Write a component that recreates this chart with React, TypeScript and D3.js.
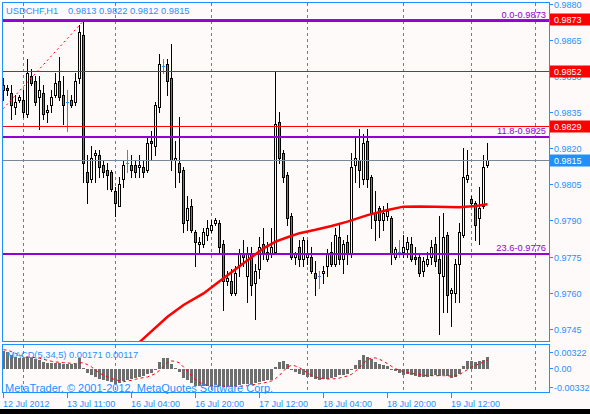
import React from 'react'
import * as d3 from 'd3'

// USDCHF H1, 12 Jul 2012 19:00 .. 19 Jul 2012 21:00 (122 bars)
const symbol = 'USDCHF,H1'

const opens = [
  0.9846, 0.9845, 0.9843, 0.9837, 0.9840, 0.9840, 0.9834, 0.9850, 0.9848, 0.9841,
  0.9843, 0.9835, 0.9838, 0.9842, 0.9848, 0.9842, 0.9839, 0.9840, 0.9839, 0.9849,
  0.9867, 0.9810, 0.9807, 0.9817, 0.9817, 0.9813, 0.9811, 0.9810, 0.9802, 0.9796,
  0.9807, 0.9814, 0.9813, 0.9813, 0.9812, 0.9812, 0.9811, 0.9823, 0.9821, 0.9837,
  0.9854, 0.9855, 0.9849, 0.9815, 0.9814, 0.9811, 0.9790, 0.9796, 0.9785, 0.9780,
  0.9780, 0.9784, 0.9786, 0.9789, 0.9789, 0.9780, 0.9765, 0.9765, 0.9760, 0.9771,
  0.9776, 0.9767, 0.9776, 0.9764, 0.9770, 0.9780, 0.9774, 0.9776, 0.9777, 0.9831,
  0.9818, 0.9809, 0.9792, 0.9775, 0.9779, 0.9774, 0.9775, 0.9775, 0.9768, 0.9767,
  0.9768, 0.9771, 0.9777, 0.9772, 0.9783, 0.9774, 0.9781, 0.9776, 0.9813, 0.9815,
  0.9807, 0.9823, 0.9808, 0.9793, 0.9795, 0.9790, 0.9792, 0.9791, 0.9775, 0.9777,
  0.9777, 0.9778, 0.9780, 0.9775, 0.9775, 0.9769, 0.9772, 0.9775, 0.9780, 0.9774,
  0.9767, 0.9784, 0.9760, 0.9760, 0.9772, 0.9784, 0.9807, 0.9799, 0.9797, 0.9791,
  0.9796, 0.9813,
]
const highs = [
  0.9849, 0.9846, 0.9846, 0.9842, 0.9842, 0.9844, 0.9857, 0.9853, 0.9850, 0.9850,
  0.9846, 0.9838, 0.9844, 0.9851, 0.9858, 0.9850, 0.9844, 0.9842, 0.9851, 0.9871,
  0.9873, 0.9817, 0.9821, 0.9819, 0.9819, 0.9815, 0.9814, 0.9811, 0.9804, 0.9808,
  0.9815, 0.9819, 0.9817, 0.9815, 0.9817, 0.9815, 0.9825, 0.9827, 0.9839, 0.9859,
  0.9857, 0.9857, 0.9863, 0.9823, 0.9833, 0.9812, 0.9800, 0.9799, 0.9786, 0.9783,
  0.9787, 0.9790, 0.9790, 0.9791, 0.9790, 0.9782, 0.9769, 0.9770, 0.9771, 0.9778,
  0.9782, 0.9779, 0.9779, 0.9772, 0.9783, 0.9787, 0.9781, 0.9787, 0.9852, 0.9835,
  0.9819, 0.9810, 0.9793, 0.9777, 0.9782, 0.9783, 0.9782, 0.9779, 0.9773, 0.9769,
  0.9771, 0.9778, 0.9781, 0.9787, 0.9788, 0.9782, 0.9784, 0.9818, 0.9825, 0.9828,
  0.9826, 0.9828, 0.9809, 0.9802, 0.9796, 0.9796, 0.9797, 0.9792, 0.9779, 0.9782,
  0.9784, 0.9783, 0.9783, 0.9779, 0.9776, 0.9775, 0.9777, 0.9782, 0.9783, 0.9792,
  0.9793, 0.9785, 0.9762, 0.9774, 0.9789, 0.9820, 0.9819, 0.9800, 0.9798, 0.9804,
  0.9817, 0.9822,
]
const lows = [
  0.9840, 0.9842, 0.9832, 0.9834, 0.9839, 0.9833, 0.9833, 0.9846, 0.9838, 0.9828,
  0.9832, 0.9831, 0.9835, 0.9841, 0.9840, 0.9830, 0.9827, 0.9837, 0.9838, 0.9847,
  0.9806, 0.9797, 0.9806, 0.9806, 0.9808, 0.9808, 0.9803, 0.9802, 0.9792, 0.9796,
  0.9804, 0.9810, 0.9808, 0.9808, 0.9808, 0.9808, 0.9810, 0.9815, 0.9817, 0.9835,
  0.9851, 0.9842, 0.9811, 0.9804, 0.9806, 0.9785, 0.9786, 0.9785, 0.9771, 0.9777,
  0.9779, 0.9782, 0.9785, 0.9788, 0.9777, 0.9753, 0.9763, 0.9759, 0.9759, 0.9767,
  0.9771, 0.9756, 0.9759, 0.9749, 0.9766, 0.9774, 0.9773, 0.9775, 0.9776, 0.9814,
  0.9806, 0.9788, 0.9774, 0.9772, 0.9771, 0.9771, 0.9772, 0.9768, 0.9759, 0.9762,
  0.9764, 0.9767, 0.9771, 0.9771, 0.9772, 0.9768, 0.9772, 0.9775, 0.9806, 0.9804,
  0.9805, 0.9804, 0.9787, 0.9782, 0.9783, 0.9786, 0.9790, 0.9772, 0.9774, 0.9775,
  0.9775, 0.9775, 0.9773, 0.9772, 0.9767, 0.9767, 0.9771, 0.9772, 0.9771, 0.9743,
  0.9752, 0.9752, 0.9746, 0.9756, 0.9756, 0.9783, 0.9806, 0.9796, 0.9782, 0.9780,
  0.9795, 0.9812,
]
const closes = [
  0.9844, 0.9844, 0.9838, 0.9839, 0.9841, 0.9835, 0.9851, 0.9847, 0.9839, 0.9844,
  0.9834, 0.9836, 0.9841, 0.9847, 0.9841, 0.9838, 0.9839, 0.9838, 0.9848, 0.9868,
  0.9814, 0.9806, 0.9816, 0.9818, 0.9812, 0.9810, 0.9809, 0.9803, 0.9797, 0.9805,
  0.9813, 0.9814, 0.9811, 0.9810, 0.9813, 0.9810, 0.9822, 0.9822, 0.9838, 0.9855,
  0.9854, 0.9848, 0.9815, 0.9816, 0.9810, 0.9789, 0.9795, 0.9786, 0.9781, 0.9781,
  0.9785, 0.9787, 0.9788, 0.9790, 0.9779, 0.9765, 0.9766, 0.9760, 0.9768, 0.9776,
  0.9775, 0.9776, 0.9763, 0.9769, 0.9779, 0.9776, 0.9777, 0.9779, 0.9830, 0.9816,
  0.9808, 0.9791, 0.9775, 0.9776, 0.9774, 0.9782, 0.9776, 0.9769, 0.9766, 0.9767,
  0.9769, 0.9776, 0.9772, 0.9784, 0.9774, 0.9780, 0.9776, 0.9812, 0.9816, 0.9811,
  0.9822, 0.9807, 0.9793, 0.9790, 0.9790, 0.9793, 0.9794, 0.9776, 0.9778, 0.9777,
  0.9779, 0.9781, 0.9774, 0.9774, 0.9768, 0.9773, 0.9774, 0.9779, 0.9773, 0.9768,
  0.9783, 0.9759, 0.9761, 0.9772, 0.9785, 0.9808, 0.9809, 0.9797, 0.9788, 0.9795,
  0.9812, 0.9815,
]

// moving average
const maBars = [34, 41, 45, 50, 55, 60, 65, 68, 71, 74, 78, 82, 86, 91, 96, 100, 104, 108, 114, 118, 121]
const maValues = [
  0.97397, 0.97502, 0.97551, 0.97599, 0.97662, 0.97724, 0.97786, 0.97814, 0.97832, 0.97849,
  0.97863, 0.97879, 0.97897, 0.97924, 0.97945, 0.97959, 0.9796, 0.97959, 0.97957, 0.97962,
  0.97969,
]

// MACD(5,34,5), in 1e-5 units
const macdHist = [
  251, 237, 199, 166, 156, 156, 166, 152, 133, 119,
  95, 81, 81, 85, 81, 71, 62, 62, 71, 152,
  14, -62, -95, -119, -142, -156, -175, -194, -213, -204,
  -175, -156, -142, -128, -119, -109, -81, -62, -5, 95,
  156, 156, 71, 14, -47, -128, -166, -204, -242, -251,
  -251, -246, -242, -237, -242, -261, -261, -261, -251, -228,
  -223, -223, -213, -204, -190, -175, -166, -156, 24, 95,
  104, 62, -5, -47, -71, -95, -119, -119, -152, -156,
  -152, -142, -128, -119, -95, -85, -71, -14, 47, 119,
  190, 166, 137, 95, 62, 47, 33, -14, -38, -62,
  -95, -81, -95, -104, -119, -119, -119, -109, -95, -104,
  -95, -104, -128, -119, -71, 33, 109, 109, 95, 109,
  128, 171,
].map(v => v / 100000)
const macdSignal = [
  270, 261, 242, 218, 194, 175, 166, 161, 156, 147,
  133, 119, 104, 95, 90, 85, 81, 76, 71, 85,
  81, 57, 24, -24, -62, -95, -118, -142, -156, -175,
  -185, -175, -166, -152, -137, -128, -118, -95, -71, -24,
  33, 90, 109, 104, 81, 24, -38, -95, -156, -194,
  -223, -242, -246, -251, -251, -251, -251, -251, -251, -251,
  -246, -242, -232, -223, -213, -204, -190, -175, -142, -95,
  -33, 24, 47, 38, 14, -24, -62, -95, -118, -133,
  -142, -147, -147, -142, -133, -118, -104, -81, -38, 24,
  81, 128, 152, 152, 133, 104, 71, 33, 0, -24,
  -43, -57, -66, -76, -85, -95, -95, -100, -100, -100,
  -100, -104, -104, -104, -85, -47, -14, 24, 47, 71,
  95, 117,
].map(v => v / 100000)

const timeTickBars = [0, 16, 32, 48, 64, 80, 96, 112]
const timeTickLabels = ['12 Jul 2012', '13 Jul 11:00', '16 Jul 04:00', '16 Jul 20:00', '17 Jul 12:00', '18 Jul 04:00', '18 Jul 20:00', '19 Jul 12:00']
const gridBars = [5, 28, 52, 76, 100, 117, 133]
const priceTicks = [0.988, 0.9865, 0.985, 0.9835, 0.982, 0.9805, 0.979, 0.9775, 0.976, 0.9745]
const macdTicks = [0.00322, 0, -0.00332]

const redLines = [0.98734, 0.9852, 0.9829]
const fibHigh = 0.9873
const fibLow = 0.9463
const fibHighBar = 20
const fibLowBar = -206
const fibLevels = [0, 11.8, 23.6]

const BG = '#FFFAFA'
const BLUE = '#1E90FF'
const PURPLE = '#9400D3'
const FONT = '"Liberation Sans", Arial, sans-serif'

const px = (v: number) => Math.floor(v) + 0.5

export default function App() {
  const n = closes.length
  const x = d3.scaleLinear().domain([0, 121]).range([3.5, 487.5])
  const y = d3.scaleLinear().domain([0.9745, 0.988]).range([329.3, 4])
  const ym = d3.scaleLinear().domain([-0.00332, 0.00322]).range([392, 346])

  const maLine = d3.line<number>()
    .x((d, i) => x(maBars[i]))
    .y(d => y(d))
  const sigLine = d3.line<number>()
    .x((d, i) => x(i))
    .y(d => ym(d))

  const fmt4 = (v: number) => v.toFixed(4)
  const last = n - 1
  const ym0 = Math.round(ym(0))

  return (
    <svg width={590} height={414} style={{ position: 'absolute', left: 0, top: 0, background: BG }}
      fontFamily={FONT}>
      <defs>
        <clipPath id="main"><rect x={2.5} y={2.5} width={547} height={339} /></clipPath>
        <clipPath id="sub"><rect x={2.5} y={344.5} width={547} height={48} /></clipPath>
      </defs>
      <rect x={0} y={0} width={590} height={414} fill={BG} />

      {/* vertical grid */}
      <g stroke={BLUE} strokeDasharray="3,3" shapeRendering="crispEdges">
        {gridBars.map(b => (
          <line key={b} x1={x(b)} x2={x(b)} y1={3} y2={392} />
        ))}
      </g>

      {/* candles */}
      <g clipPath="url(#main)" shapeRendering="crispEdges">
        {closes.map((c, i) => {
          const o = opens[i]
          const cx = x(i)
          const yh = px(y(highs[i]))
          const yl = px(y(lows[i]))
          if (o === c) {
            const yo = px(y(o))
            return (
              <g key={i} stroke={BLUE}>
                <line x1={cx} x2={cx} y1={yh - 0.5} y2={yl + 0.5} />
                <line x1={cx - 1.5} x2={cx + 1.5} y1={yo} y2={yo} />
              </g>
            )
          }
          const yo = px(y(o))
          const yc = px(y(c))
          return (
            <g key={i}>
              <line x1={cx} x2={cx} y1={yh - 0.5} y2={yl + 0.5} stroke="#000" />
              <rect x={cx - 1} y={Math.min(yo, yc)} width={2} height={Math.max(1, Math.abs(yo - yc))}
                fill={c > o ? BG : BLUE} stroke="#000" />
            </g>
          )
        })}
      </g>

      {/* objects */}
      <g clipPath="url(#main)">
        <line x1={x(fibLowBar)} y1={y(fibLow)} x2={x(fibHighBar)} y2={y(fibHigh)}
          stroke="#FF0000" strokeDasharray="2,3" />
        <g shapeRendering="crispEdges">
          {redLines.map(p => (
            <line key={p} x1={2} x2={549} y1={px(y(p))} y2={px(y(p))} stroke="#FF0000" />
          ))}
          {fibLevels.map(l => {
            const p = fibHigh - (fibHigh - fibLow) * l / 100
            const yy = Math.round(y(p))
            return (
              <g key={l}>
                <line x1={2} x2={549} y1={yy} y2={yy} stroke={PURPLE} strokeWidth={2} />
              </g>
            )
          })}
          <line x1={2} x2={549} y1={px(y(closes[last]))} y2={px(y(closes[last]))} stroke="#778899" />
        </g>
        <path d={maLine(maValues) || ''} fill="none" stroke="#FF0000" strokeWidth={2.5} />
      </g>
      {fibLevels.map(l => {
        const p = fibHigh - (fibHigh - fibLow) * l / 100
        return (
          <text key={l} x={546} y={Math.round(y(p)) - 3} textAnchor="end" fontSize={9.3} fill={PURPLE}>
            {`${l.toFixed(1)}-${fmt4(p)}`}
          </text>
        )
      })}

      {/* MACD */}
      <g clipPath="url(#sub)" shapeRendering="crispEdges">
        {macdHist.map((v, i) => {
          const yv = Math.round(ym(v))
          return (
            <rect key={i} x={x(i) - 1.5} width={3} y={Math.min(yv, ym0)}
              height={Math.max(1, Math.abs(yv - ym0))} fill="#6E6E6E" />
          )
        })}
      </g>
      <path d={sigLine(macdSignal) || ''} fill="none" stroke="#FF0000" strokeDasharray="3,3" />
      <text x={7} y={357.5} fontSize={9.3} fill={BLUE}>
        {`MACD(5,34,5) ${macdHist[last].toFixed(5)} ${macdSignal[last].toFixed(5)}`}
      </text>
      <text x={5} y={391.5} fontSize={11} fill={BLUE}>MetaTrader, © 2001-2012, MetaQuotes Software Corp.</text>

      {/* frames */}
      <g fill="none" stroke={BLUE} shapeRendering="crispEdges">
        <rect x={2.5} y={2.5} width={547} height={339} />
        <rect x={2.5} y={344.5} width={547} height={48} />
      </g>

      {/* title */}
      <text x={6} y={14} fontSize={9.3} fill={BLUE}>{symbol}</text>
      <text x={68} y={14} fontSize={9.3} fill={BLUE}>
        {[opens[last], highs[last], lows[last], closes[last]].map(fmt4).join(' ')}
      </text>

      {/* price axis */}
      <g shapeRendering="crispEdges" stroke={BLUE}>
        {priceTicks.map(t => (
          <line key={t} x1={549} x2={553} y1={px(y(t))} y2={px(y(t))} />
        ))}
        {macdTicks.map((t, i) => {
          const yy = px(ym(t) + (i === 0 ? 6 : i === 2 ? -5 : 0))
          return <line key={t} x1={549} x2={553} y1={yy} y2={yy} />
        })}
      </g>
      {priceTicks.map(t => (
        <text key={t} x={554} y={y(t) + 3.5} fontSize={9} fill={BLUE}>{fmt4(t)}</text>
      ))}
      {macdTicks.map((t, i) => (
        <text key={t} x={554} y={ym(t) + (i === 0 ? 6 : i === 2 ? -5 : 0) + 3.5} fontSize={9} fill={BLUE}>
          {t === 0 ? '0.00' : t.toFixed(5)}
        </text>
      ))}
      {redLines.map(p => {
        const yy = px(y(p))
        return (
          <g key={p}>
            <rect x={550} y={yy - 6} width={40} height={12} fill="#FF0000" />
            <text x={554} y={yy + 3.5} fontSize={9} fill="#FFFFFF">{fmt4(p)}</text>
          </g>
        )
      })}
      <rect x={550} y={px(y(closes[last])) - 6} width={40} height={12} fill={BLUE} />
      <text x={554} y={px(y(closes[last])) + 3.5} fontSize={9} fill="#FFFFFF">{fmt4(closes[last])}</text>

      {/* time axis */}
      <g shapeRendering="crispEdges" stroke={BLUE}>
        {timeTickBars.map(b => (
          <line key={b} x1={x(b)} x2={x(b)} y1={393} y2={398} />
        ))}
      </g>
      {timeTickBars.map((b, i) => (
        <text key={b} x={x(b) - 0.5} y={407} fontSize={9} fill={BLUE}>{timeTickLabels[i]}</text>
      ))}

      <rect x={0} y={409} width={590} height={5} fill="#000" />
    </svg>
  )
}
